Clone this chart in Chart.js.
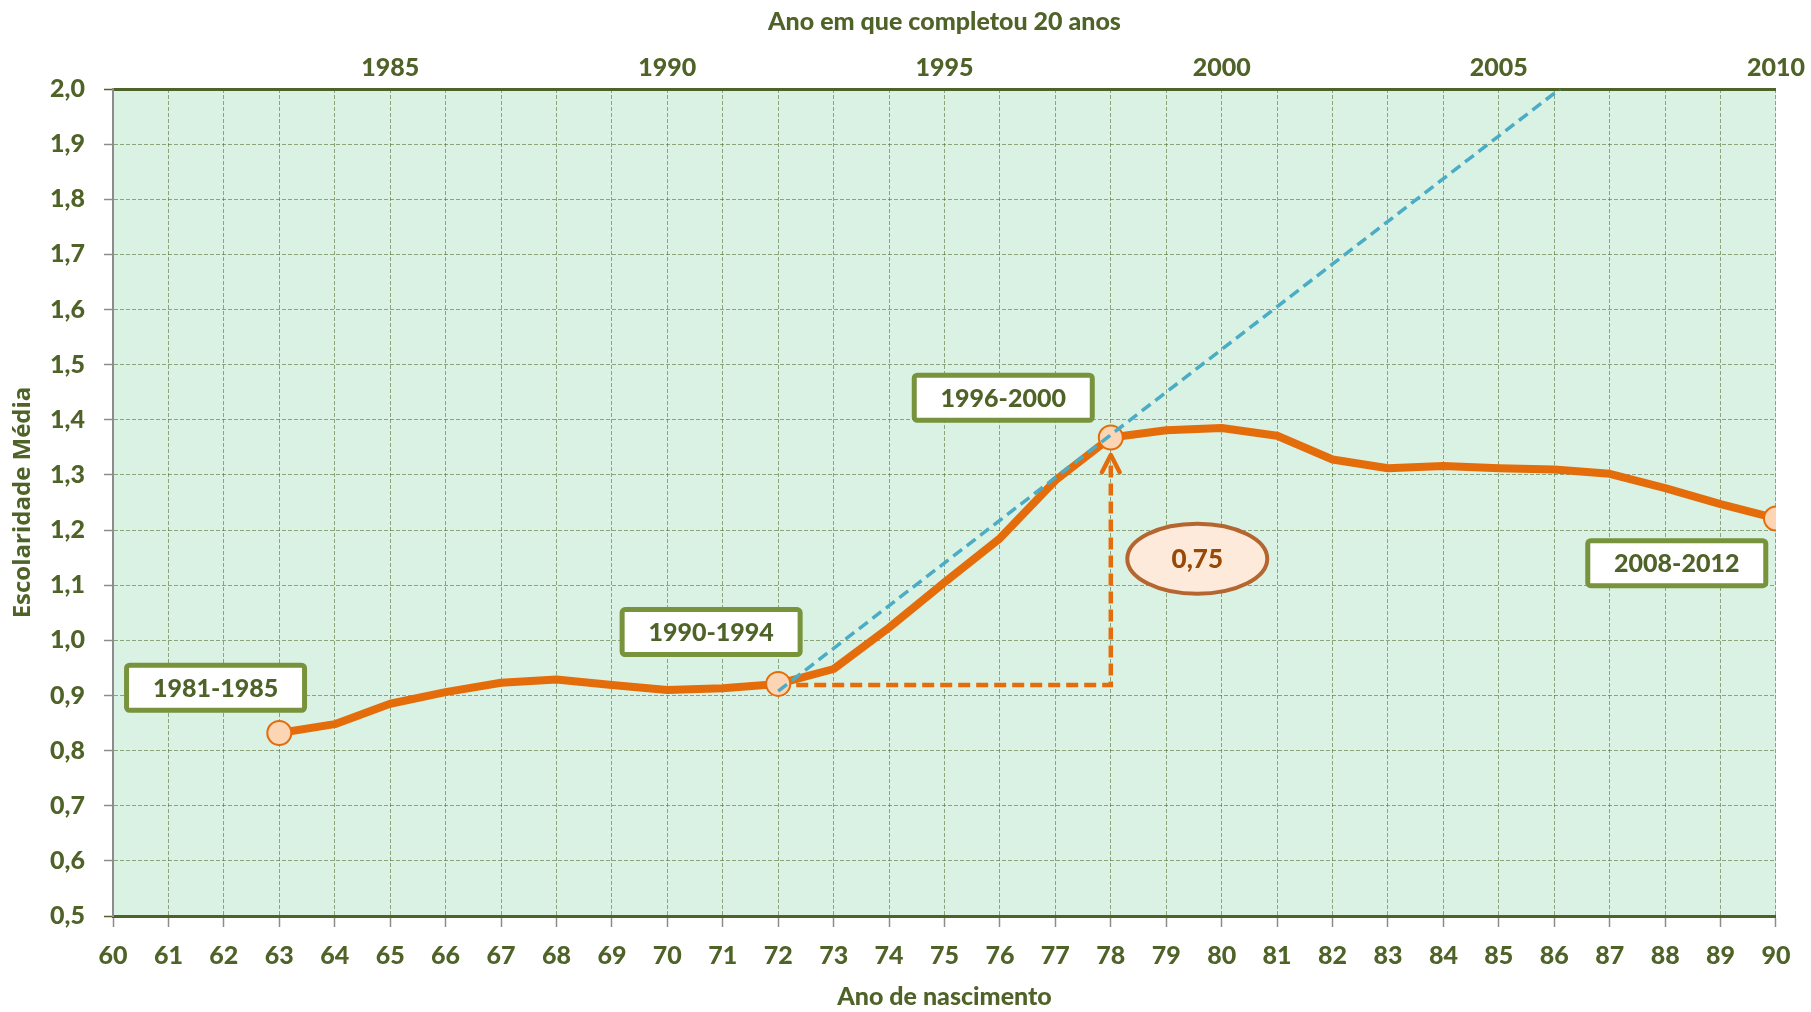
<!DOCTYPE html>
<html lang="pt">
<head>
<meta charset="UTF-8">
<title>Escolaridade Média por ano de nascimento</title>
<script src="https://cdn.jsdelivr.net/npm/chart.js@4"></script>
<style>
  html, body { margin: 0; padding: 0; background: #fff; overflow: hidden; }
  #chart { display: block; }
</style>
</head>
<body>
<canvas id="chart" width="1811" height="1012"></canvas>
<script>
// ano de nascimento (19xx) e escolaridade média
const birthYears = [63, 64, 65, 66, 67, 68, 69, 70, 71, 72, 73, 74, 75, 76,
                    77, 78, 79, 80, 81, 82, 83, 84, 85, 86, 87, 88, 89, 90];
const avgSchooling = [0.832, 0.848, 0.885, 0.906, 0.923, 0.929, 0.919, 0.910, 0.913, 0.921,
                      0.948, 1.023, 1.105, 1.185, 1.290, 1.368, 1.381, 1.385, 1.371, 1.328,
                      1.312, 1.316, 1.312, 1.310, 1.302, 1.276, 1.247, 1.221];
const markedYears = [63, 72, 78, 90];

// linha de tendência (azul tracejada)
const trendYears = [72, 86.1];
const trendValues = [0.908, 2.0];

// ganho entre 72 e 78 (laranja tracejada + seta)
const gainYears = [72, 78, 78];
const gainValues = [0.919, 0.919, 1.336];
const arrowYears = [77.84, 78, 78.16];
const arrowValues = [1.305, 1.336, 1.305];

// caixas de texto
const boxLabels = ['1981-1985', '1990-1994', '1996-2000', '2008-2012'];
const boxYears = [61.85, 70.79, 76.06, 88.21];
const boxValues = [0.914, 1.015, 1.44, 1.14];
const gainLabel = '0,75';
const gainLabelYear = 79.56;
const gainLabelValue = 1.148;

// eixo superior: ano em que completou 20 anos
const topAxisMin = 1980;
const topAxisMax = 2010;

const TEXT_GREEN = '#4F6228';
const BOX_BORDER = '#77933C';
const PLOT_BG = '#DAF2E3';
const GRID = 'rgba(79, 98, 40, 0.55)';
const AXIS_GRAY = '#8C8C8C';
const ORANGE = '#E46C0A';
const MARKER_FILL = '#FCD5B5';
const BLUE = '#4BACC6';

const tickFont = { family: 'Lato', weight: '900', size: 25 };

function toPoints(xs, ys) {
    return xs.map((v, i) => ({ x: v, y: ys[i] }));
}

const decorations = {
    id: 'decorations',
    beforeDraw(chart) {
        const { ctx, chartArea: a } = chart;
        ctx.save();
        ctx.fillStyle = PLOT_BG;
        ctx.fillRect(a.left, a.top, a.right - a.left, a.bottom - a.top);
        ctx.restore();
    },
    afterDatasetsDraw(chart) {
        const { ctx, scales: { x, y } } = chart;
        ctx.save();
        ctx.textAlign = 'center';
        ctx.textBaseline = 'middle';

        // caixas com os períodos
        ctx.font = '900 25px Lato';
        boxLabels.forEach((txt, i) => {
            const cx = x.getPixelForValue(boxYears[i]);
            const cy = y.getPixelForValue(boxValues[i]);
            const w = 178, h = 45;
            ctx.beginPath();
            ctx.roundRect(cx - w / 2, cy - h / 2, w, h, 3);
            ctx.fillStyle = '#fff';
            ctx.fill();
            ctx.lineWidth = 5;
            ctx.strokeStyle = BOX_BORDER;
            ctx.stroke();
            ctx.fillStyle = TEXT_GREEN;
            ctx.fillText(txt, cx, cy + 1);
        });

        // elipse com o ganho
        const ex = x.getPixelForValue(gainLabelYear);
        const ey = y.getPixelForValue(gainLabelValue);
        ctx.beginPath();
        ctx.ellipse(ex, ey, 70, 35, 0, 0, Math.PI * 2);
        ctx.fillStyle = '#FDEADA';
        ctx.fill();
        ctx.lineWidth = 4;
        ctx.strokeStyle = '#B5652F';
        ctx.stroke();
        ctx.fillStyle = '#984807';
        ctx.font = '900 26px Lato';
        ctx.fillText(gainLabel, ex, ey + 1);
        ctx.restore();
    }
};

new Chart(document.getElementById('chart'), {
    type: 'line',
    data: {
        datasets: [
            {
                label: 'Tendência',
                data: toPoints(trendYears, trendValues),
                xAxisID: 'x',
                borderColor: BLUE,
                borderWidth: 3.5,
                borderDash: [11, 6],
                pointRadius: 0
            },
            {
                label: 'Escolaridade Média',
                data: toPoints(birthYears, avgSchooling),
                xAxisID: 'x',
                borderColor: ORANGE,
                borderWidth: 8,
                borderJoinStyle: 'round',
                borderCapStyle: 'round',
                tension: 0,
                pointRadius: ctx => (ctx.raw && markedYears.includes(ctx.raw.x)) ? 12 : 0,
                pointBackgroundColor: MARKER_FILL,
                pointBorderColor: ORANGE,
                pointBorderWidth: 2
            },
            {
                label: 'Seta',
                data: toPoints(arrowYears, arrowValues),
                xAxisID: 'x',
                borderColor: ORANGE,
                borderWidth: 4.5,
                borderJoinStyle: 'round',
                borderCapStyle: 'round',
                pointRadius: 0
            },
            {
                label: 'Ganho',
                data: toPoints(gainYears, gainValues),
                xAxisID: 'x',
                borderColor: ORANGE,
                borderWidth: 4.5,
                borderDash: [12, 6],
                pointRadius: 0
            }
        ]
    },
    options: {
        responsive: false,
        animation: false,
        devicePixelRatio: 1,
        layout: { padding: { left: 0, right: 32, top: 0, bottom: 0 } },
        plugins: {
            legend: { display: false },
            tooltip: { enabled: false }
        },
        scales: {
            x: {
                type: 'linear',
                position: 'bottom',
                min: 60,
                max: 90,
                afterFit: s => { s.height = 96; },
                ticks: {
                    stepSize: 1,
                    autoSkip: false,
                    maxRotation: 0,
                    padding: 14,
                    color: TEXT_GREEN,
                    font: tickFont,
                    callback: v => String(v)
                },
                grid: {
                    color: GRID,
                    lineWidth: 1,
                    drawTicks: true,
                    tickLength: 11,
                    tickColor: AXIS_GRAY,
                    tickWidth: 1.5
                },
                border: { color: TEXT_GREEN, width: 3, dash: [4, 2] },
                title: {
                    display: true,
                    text: 'Ano de nascimento',
                    color: TEXT_GREEN,
                    font: tickFont,
                    padding: { top: 0, bottom: 0 }
                }
            },
            top: {
                type: 'linear',
                position: 'top',
                min: topAxisMin,
                max: topAxisMax,
                afterFit: s => { s.height = 89; },
                ticks: {
                    stepSize: 5,
                    maxRotation: 0,
                    padding: 6,
                    color: TEXT_GREEN,
                    font: tickFont,
                    callback: v => v === topAxisMin ? '' : String(v)
                },
                grid: { display: false, drawTicks: false },
                border: { color: TEXT_GREEN, width: 3 },
                title: {
                    display: true,
                    text: 'Ano em que completou 20 anos',
                    color: TEXT_GREEN,
                    font: tickFont,
                    padding: { top: 7, bottom: 0 }
                }
            },
            y: {
                min: 0.5,
                max: 2.0,
                afterFit: s => { s.width = 113; },
                ticks: {
                    stepSize: 0.1,
                    padding: 19,
                    color: TEXT_GREEN,
                    font: tickFont,
                    callback: v => v.toFixed(1).replace('.', ',')
                },
                grid: {
                    color: GRID,
                    lineWidth: 1,
                    tickLength: 9,
                    tickColor: ctx => {
                        const v = ctx.tick ? ctx.tick.value : 0;
                        return (Math.abs(v - 0.5) < 1e-6 || Math.abs(v - 2) < 1e-6) ? TEXT_GREEN : AXIS_GRAY;
                    },
                    tickWidth: 1.5
                },
                border: { color: AXIS_GRAY, width: 2, dash: [4, 2] },
                title: {
                    display: true,
                    text: 'Escolaridade Média',
                    color: TEXT_GREEN,
                    font: { family: 'Open Sans', weight: 'bold', size: 24 },
                    padding: { top: 9, bottom: 0 }
                }
            }
        }
    },
    plugins: [decorations]
});
</script>
</body>
</html>
